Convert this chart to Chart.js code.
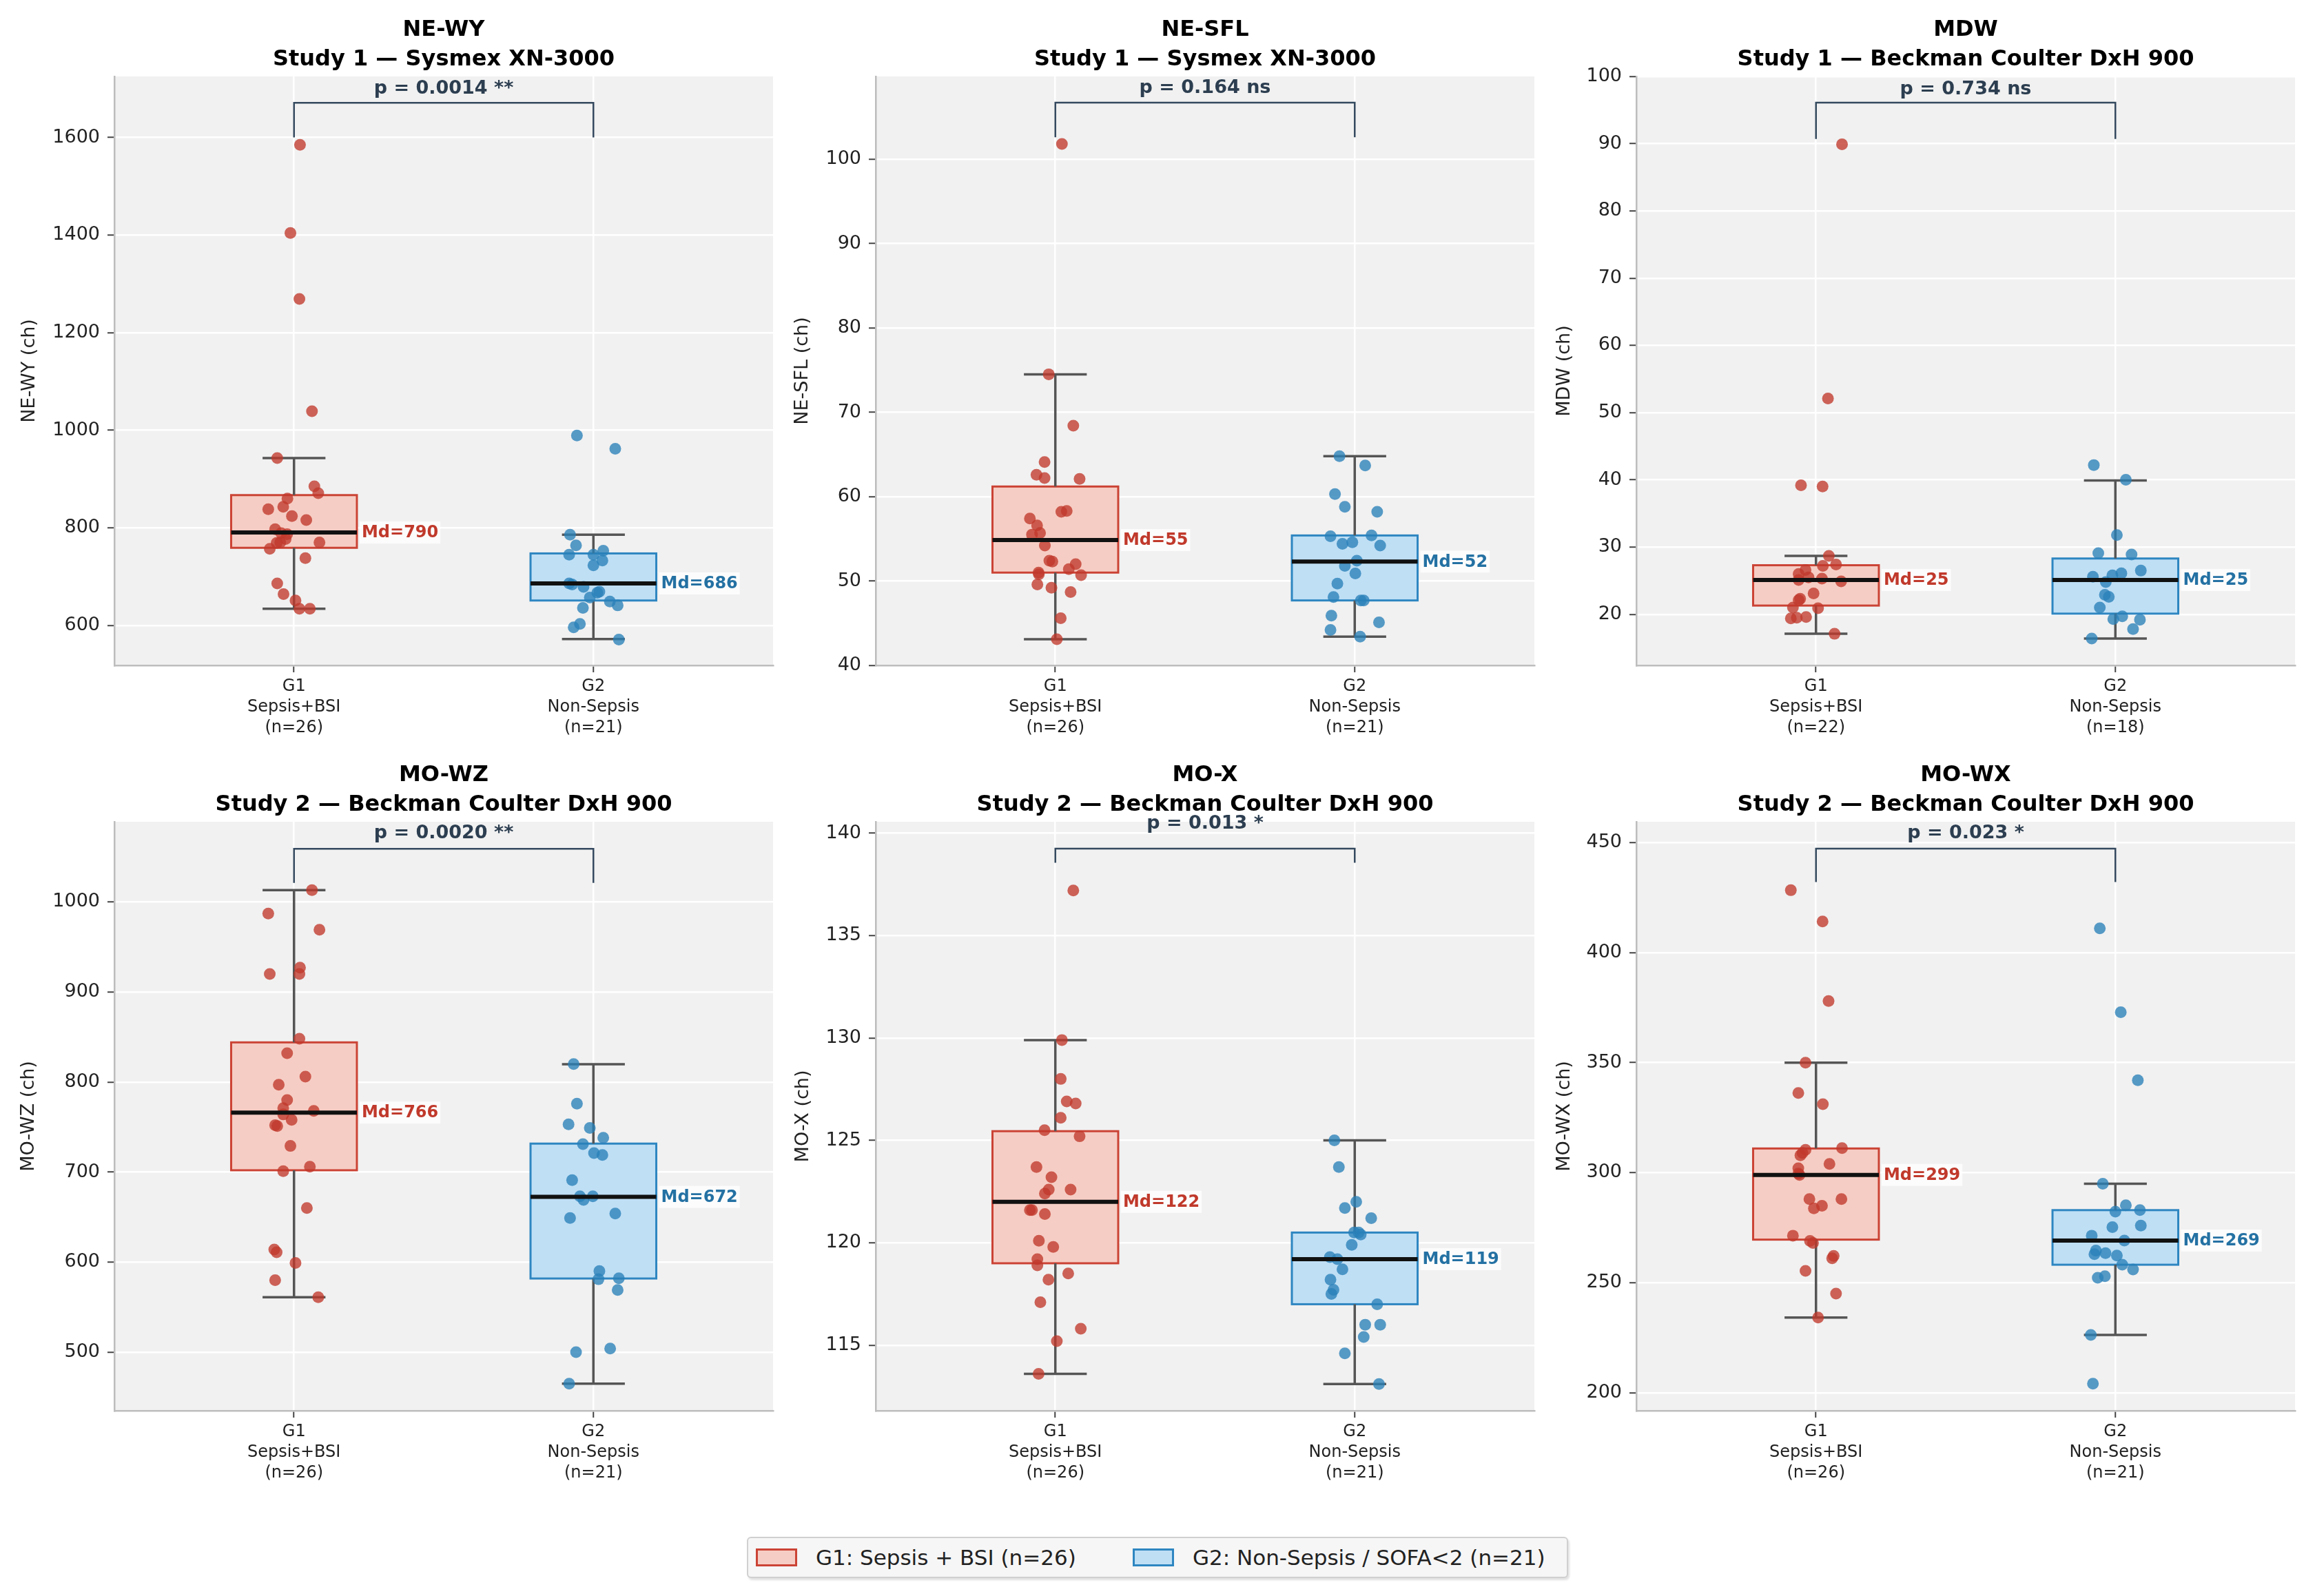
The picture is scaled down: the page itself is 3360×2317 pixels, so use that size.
<!DOCTYPE html>
<html>
<head>
<meta charset="utf-8">
<script src="https://cdn.jsdelivr.net/npm/chart.js@4.4.1/dist/chart.umd.min.js"></script>
<style>
    html, body { margin: 0; padding: 0; background: #ffffff; }
    #page { position: relative; width: 3360px; height: 2317px; overflow: hidden; font-family: 'DejaVu Sans', sans-serif; }
    #page canvas { position: absolute; }
    .legend-box {
        position: absolute; left: 1084px; top: 2231px; width: 1188px; height: 56px;
        border: 2px solid #d0d0d0; border-radius: 6px; background: #f6f6f6;
        box-shadow: 2px 3px 3px rgba(0,0,0,0.12);
    }
    .legend-item { position: absolute; top: 0; height: 56px; display: flex; align-items: center; font-size: 31px; color: #222; white-space: nowrap; }
    .swatch { width: 60px; height: 26px; margin-right: 27px; box-sizing: border-box; }
</style>
</head>
<body>
<div id="page">
    <div class="legend-box">
        <div class="legend-item" style="left: 11px;">
            <span class="swatch" style="background:#f6cdc4;border:3px solid #cb4335;"></span>G1: Sepsis + BSI (n=26)
        </div>
        <div class="legend-item" style="left: 558px;">
            <span class="swatch" style="background:#bfdff5;border:3px solid #2e86c1;"></span>G2: Non-Sepsis / SOFA&lt;2 (n=21)
        </div>
    </div>
</div>

<script>
// ---- data ----
// panel titles and y axis titles
const panelTitles = [
    ['NE-WY', 'Study 1 — Sysmex XN-3000'],
    ['NE-SFL', 'Study 1 — Sysmex XN-3000'],
    ['MDW', 'Study 1 — Beckman Coulter DxH 900'],
    ['MO-WZ', 'Study 2 — Beckman Coulter DxH 900'],
    ['MO-X', 'Study 2 — Beckman Coulter DxH 900'],
    ['MO-WX', 'Study 2 — Beckman Coulter DxH 900']
];
const yTitles = ['NE-WY (ch)', 'NE-SFL (ch)', 'MDW (ch)', 'MO-WZ (ch)', 'MO-X (ch)', 'MO-WX (ch)'];

// group tick labels (n differs for MDW)
const groupCounts = [[26, 21], [26, 21], [22, 18], [26, 21], [26, 21], [26, 21]];
const groupNames = [['G1', 'Sepsis+BSI'], ['G2', 'Non-Sepsis']];

// y tick labels and visible ranges
const yTicks = [
    [600, 800, 1000, 1200, 1400, 1600],
    [40, 50, 60, 70, 80, 90, 100],
    [20, 30, 40, 50, 60, 70, 80, 90, 100],
    [500, 600, 700, 800, 900, 1000],
    [115, 120, 125, 130, 135, 140],
    [200, 250, 300, 350, 400, 450]
];
const yMin = [518, 40, 12.4, 435, 111.8, 191.9];
const yMax = [1725, 109.8, 100, 1089, 140.56, 459.4];

// p-values
const pLabels = ['p = 0.0014 **', 'p = 0.164 ns', 'p = 0.734 ns', 'p = 0.0020 **', 'p = 0.013 *', 'p = 0.023 *'];
const bracketLow = [1600, 102.6, 90.7, 1021, 138.56, 432];
const bracketHigh = [1671, 106.7, 96.1, 1059, 139.25, 447.2];
const pTextAt = [1700, 108.4, 98.1, 1076, 140.45, 454];

// box summaries: [whisker low, Q1, median, Q3, whisker high]
const boxG1 = [
    [634, 759, 790.3, 867, 943],
    [43.1, 51.0, 54.85, 61.2, 74.5],
    [17.1, 21.3, 25.1, 27.3, 28.7],
    [561, 702, 766, 844, 1013],
    [113.6, 119.0, 122.0, 125.45, 129.9],
    [234.2, 269.6, 299.0, 311.0, 350.0]
];
const boxG2 = [
    [572, 651, 686, 747.5, 786],
    [43.4, 47.7, 52.3, 55.4, 64.8],
    [16.4, 20.1, 25.1, 28.3, 39.9],
    [465, 581.8, 672.4, 731.6, 819.8],
    [113.1, 117.0, 119.2, 120.5, 125.0],
    [226.3, 258.2, 269.2, 283.0, 295.0]
];

// individual points: [jitter offset from group centre, value]
const neWyG1 = [[0.02,1585],[-0.012,1404],[0.018,1269],[0.06,1039],[-0.056,943],[0.068,885],[0.081,871],[-0.022,860],[-0.086,838],[-0.036,843],[-0.007,824],[0.041,816],[-0.063,797],[-0.043,789],[-0.023,787],[-0.028,777],[-0.046,770],[0.085,770],[-0.058,769],[-0.081,757],[0.038,738],[-0.056,686],[-0.035,664],[0.005,651],[0.018,634],[0.053,634]];
const neWyG2 = [[-0.055,989],[0.073,962],[-0.078,786],[-0.058,764],[0.033,753],[-0.081,745],[0,745],[0.03,733],[0,723],[-0.081,686],[-0.071,684],[-0.033,679],[0.02,669],[0.013,667],[-0.012,657],[0.055,649],[0.081,641],[-0.035,636],[-0.045,603],[-0.066,596],[0.085,571]];

const neSflG1 = [[0.022,101.8],[-0.022,74.5],[0.06,68.4],[-0.036,64.1],[-0.063,62.6],[-0.036,62.2],[0.081,62.1],[0.02,58.2],[0.038,58.3],[-0.085,57.4],[-0.061,56.6],[-0.051,55.7],[-0.078,55.5],[-0.035,54.2],[-0.02,52.4],[-0.01,52.3],[0.068,52.0],[0.045,51.4],[-0.056,51.0],[-0.055,50.8],[0.086,50.7],[-0.06,49.6],[-0.013,49.2],[0.051,48.7],[0.018,45.6],[0.005,43.1]];
const neSflG2 = [[-0.051,64.8],[0.035,63.7],[-0.066,60.3],[-0.033,58.8],[0.075,58.2],[-0.081,55.3],[0.056,55.4],[-0.041,54.4],[-0.008,54.6],[0.085,54.2],[0.007,52.4],[-0.033,51.8],[0.002,50.9],[-0.058,49.7],[-0.071,48.1],[0.02,47.7],[0.03,47.7],[-0.078,45.9],[0.081,45.1],[-0.081,44.2],[0.018,43.4]];

const mdwG1 = [[0.087,89.9],[0.04,52.1],[-0.05,39.2],[0.022,39.0],[0.043,28.7],[0.023,27.2],[0.067,27.4],[-0.035,26.6],[-0.058,26.0],[-0.025,25.5],[0.02,25.3],[-0.058,25.1],[0.084,24.9],[-0.008,23.1],[-0.053,22.3],[-0.058,22.1],[-0.077,21.0],[0.007,20.9],[-0.084,19.4],[-0.064,19.5],[-0.033,19.6],[0.062,17.1]];
const mdwG2 = [[-0.072,42.2],[0.035,40.0],[0.005,31.8],[-0.057,29.1],[0.054,28.9],[0.085,26.5],[0.02,26.1],[-0.01,25.8],[-0.075,25.6],[-0.032,24.8],[-0.035,22.9],[-0.022,22.6],[-0.052,21.0],[0.023,19.7],[-0.007,19.3],[0.082,19.2],[0.059,17.8],[-0.079,16.4]];

const moWzG1 = [[0.06,1013],[-0.086,987],[0.085,969],[-0.081,920],[0.02,927],[0.018,920],[0.018,848],[-0.023,832],[0.038,806],[-0.051,797],[-0.023,780],[-0.036,771],[-0.036,764],[0.066,768],[-0.008,758],[-0.063,752],[-0.056,751],[-0.012,729],[0.053,706],[-0.036,701],[0.043,660],[-0.066,614],[-0.058,611],[0.005,599],[-0.063,580],[0.081,561]];
const moWzG2 = [[-0.066,820],[-0.055,776],[-0.083,753],[-0.012,749],[0.033,738],[-0.035,731],[0.002,721],[0.03,719],[-0.071,691],[-0.045,673],[-0.033,669],[-0.002,673],[0.073,654],[-0.078,649],[0.02,590],[0.017,581],[0.085,582],[0.081,569],[-0.058,500],[0.056,504],[-0.081,465]];

const moXG1 = [[0.06,137.2],[0.022,129.9],[0.018,128.0],[0.038,126.9],[0.068,126.8],[0.018,126.1],[-0.036,125.5],[0.081,125.2],[-0.063,123.7],[-0.013,123.2],[-0.022,122.6],[0.051,122.6],[-0.035,122.4],[-0.085,121.6],[-0.078,121.6],[-0.035,121.4],[-0.055,120.1],[-0.007,119.8],[-0.06,119.2],[-0.06,118.9],[-0.023,118.2],[0.043,118.5],[-0.05,117.1],[0.085,115.8],[0.005,115.2],[-0.056,113.6]];
const moXG2 = [[-0.068,125.0],[-0.053,123.7],[0.005,122.0],[-0.033,121.7],[0.055,121.2],[-0.002,120.5],[0.02,120.4],[0.013,120.5],[-0.01,119.9],[-0.083,119.3],[-0.058,119.2],[-0.041,118.7],[-0.081,118.2],[-0.071,117.7],[-0.078,117.5],[0.075,117.0],[0.035,116.0],[0.085,116.0],[0.03,115.4],[-0.033,114.6],[0.081,113.1]];

const moWxG1 = [[-0.084,428.3],[0.022,414.1],[0.042,378.0],[-0.035,350.0],[-0.059,336.2],[0.023,331.1],[-0.035,310.4],[0.087,311.2],[-0.052,307.9],[-0.045,309.0],[0.045,304.0],[-0.059,302.0],[-0.059,299.6],[-0.055,299.0],[-0.022,288.0],[0.085,288.0],[0.02,285.0],[-0.007,283.8],[-0.077,271.4],[-0.02,269.0],[-0.01,268.1],[0.059,262.2],[0.054,261.1],[-0.035,255.4],[0.067,245.1],[0.007,234.2]];
const moWxG2 = [[-0.052,411.0],[0.018,372.9],[0.075,342.0],[-0.042,295.0],[0.035,285.2],[0,282.3],[0.082,283.0],[-0.01,275.3],[0.085,276.0],[-0.079,271.4],[0.03,269.2],[-0.065,264.6],[-0.07,263.0],[-0.033,263.5],[0.005,262.4],[0.023,258.2],[0.059,256.0],[-0.035,253.0],[-0.059,252.3],[-0.082,226.3],[-0.075,204.2]];

const pointsG1 = [neWyG1, neSflG1, mdwG1, moWzG1, moXG1, moWxG1];
const pointsG2 = [neWyG2, neSflG2, mdwG2, moWzG2, moXG2, moWxG2];

// ---- layout / style ----
const COL_LEFT = [0, 1105, 2209];
const ROW_TOP = [0, 1082];
const CANVAS_W = 1150;
const CANVAS_H = 1082;
const Y_AXIS_W = 166;
const X_AXIS_H = 116;
const yTitlePad = [27, 44, 46, 26, 45, 46];

const BOX_HALF = 0.21;
const CAP_HALF = 0.105;
const FONT = "'DejaVu Sans', sans-serif";

const groupStyle = [
    { point: 'rgba(192, 57, 43, 0.78)', fill: '#f6cdc4', edge: '#cb4335', text: '#c0392b' },
    { point: 'rgba(41, 128, 185, 0.78)', fill: '#bfdff5', edge: '#2e86c1', text: '#2471a3' }
];

Chart.defaults.font.family = FONT;
Chart.defaults.color = '#222';

// grey panel, boxes, whiskers, medians and the significance bracket
const boxPlotPlugin = {
    id: 'boxPlot',
    beforeDraw(chart) {
        const a = chart.chartArea;
        const ctx = chart.ctx;
        ctx.save();
        ctx.fillStyle = '#f1f1f1';
        ctx.fillRect(a.left, a.top, a.right - a.left, a.bottom - a.top);
        ctx.restore();
    },
    beforeDatasetsDraw(chart, args, opts) {
        const idx = opts.panel;
        const xs = chart.scales.x, ys = chart.scales.y;
        const ctx = chart.ctx;
        ctx.save();
        [boxG1[idx], boxG2[idx]].forEach((st, g) => {
            const left = xs.getPixelForValue(g - BOX_HALF);
            const right = xs.getPixelForValue(g + BOX_HALF);
            const top = ys.getPixelForValue(st[3]);
            const bottom = ys.getPixelForValue(st[1]);
            const cx = xs.getPixelForValue(g);

            ctx.fillStyle = groupStyle[g].fill;
            ctx.fillRect(left, top, right - left, bottom - top);
            ctx.strokeStyle = groupStyle[g].edge;
            ctx.lineWidth = 3;
            ctx.strokeRect(left, top, right - left, bottom - top);

            // whiskers + caps
            ctx.strokeStyle = '#555555';
            ctx.lineWidth = 3.5;
            ctx.beginPath();
            ctx.moveTo(cx, top);
            ctx.lineTo(cx, ys.getPixelForValue(st[4]));
            ctx.moveTo(cx, bottom);
            ctx.lineTo(cx, ys.getPixelForValue(st[0]));
            [st[0], st[4]].forEach(v => {
                const y = ys.getPixelForValue(v);
                ctx.moveTo(xs.getPixelForValue(g - CAP_HALF), y);
                ctx.lineTo(xs.getPixelForValue(g + CAP_HALF), y);
            });
            ctx.stroke();
        });
        ctx.restore();
    },
    afterDatasetsDraw(chart, args, opts) {
        const idx = opts.panel;
        const xs = chart.scales.x, ys = chart.scales.y;
        const ctx = chart.ctx;
        ctx.save();
        [boxG1[idx], boxG2[idx]].forEach((st, g) => {
            const left = xs.getPixelForValue(g - BOX_HALF);
            const right = xs.getPixelForValue(g + BOX_HALF);
            const my = ys.getPixelForValue(st[2]);

            ctx.strokeStyle = '#111111';
            ctx.lineWidth = 6;
            ctx.beginPath();
            ctx.moveTo(left, my);
            ctx.lineTo(right, my);
            ctx.stroke();

            // median label with a light box behind it
            const label = 'Md=' + Math.round(st[2]);
            ctx.font = 'bold 24px ' + FONT;
            const w = ctx.measureText(label).width;
            ctx.fillStyle = 'rgba(255, 255, 255, 0.75)';
            ctx.fillRect(right + 4, my - 16, w + 6, 32);
            ctx.fillStyle = groupStyle[g].text;
            ctx.textAlign = 'left';
            ctx.textBaseline = 'middle';
            ctx.fillText(label, right + 7, my + 1);
        });

        // significance bracket
        const x0 = xs.getPixelForValue(0);
        const x1 = xs.getPixelForValue(1);
        const yLow = ys.getPixelForValue(bracketLow[idx]);
        const yHigh = ys.getPixelForValue(bracketHigh[idx]);
        ctx.strokeStyle = '#34495e';
        ctx.lineWidth = 2.5;
        ctx.beginPath();
        ctx.moveTo(x0, yLow);
        ctx.lineTo(x0, yHigh);
        ctx.lineTo(x1, yHigh);
        ctx.lineTo(x1, yLow);
        ctx.stroke();

        ctx.font = 'bold 27px ' + FONT;
        ctx.fillStyle = '#2c3e50';
        ctx.textAlign = 'center';
        ctx.textBaseline = 'middle';
        ctx.fillText(pLabels[idx], (x0 + x1) / 2, ys.getPixelForValue(pTextAt[idx]));
        ctx.restore();
    }
};

function buildPanel(idx) {
    const canvas = document.createElement('canvas');
    canvas.width = CANVAS_W;
    canvas.height = CANVAS_H;
    canvas.style.left = COL_LEFT[idx % 3] + 'px';
    canvas.style.top = ROW_TOP[Math.floor(idx / 3)] + 'px';
    document.getElementById('page').appendChild(canvas);

    const g1 = pointsG1[idx].map(p => ({ x: 0 + p[0], y: p[1] }));
    const g2 = pointsG2[idx].map(p => ({ x: 1 + p[0], y: p[1] }));
    const xLabels = groupNames.map((n, g) => [n[0], n[1], '(n=' + groupCounts[idx][g] + ')']);

    return new Chart(canvas.getContext('2d'), {
        type: 'scatter',
        data: {
            datasets: [
                { label: 'G1', data: g1, backgroundColor: groupStyle[0].point, borderWidth: 0, pointRadius: 8.5 },
                { label: 'G2', data: g2, backgroundColor: groupStyle[1].point, borderWidth: 0, pointRadius: 8.5 }
            ]
        },
        options: {
            responsive: false,
            animation: false,
            devicePixelRatio: 1,
            events: [],
            layout: { padding: { left: 0, right: CANVAS_W - Y_AXIS_W - 956, top: 0, bottom: 0 } },
            scales: {
                x: {
                    type: 'linear',
                    min: -0.6,
                    max: 1.6,
                    afterBuildTicks: s => { s.ticks = [{ value: 0 }, { value: 1 }]; },
                    afterFit: s => { s.height = X_AXIS_H; },
                    ticks: {
                        callback: (v, i) => xLabels[i],
                        font: { size: 24, lineHeight: 1.25 },
                        color: '#222',
                        padding: 6,
                        autoSkip: false,
                        maxRotation: 0
                    },
                    grid: { color: '#ffffff', lineWidth: 2.5, tickLength: 10, tickColor: '#444', tickWidth: 2 },
                    border: { display: true, color: '#bdbdbd', width: 2.5 }
                },
                y: {
                    type: 'linear',
                    min: yMin[idx],
                    max: yMax[idx],
                    afterBuildTicks: s => { s.ticks = yTicks[idx].map(v => ({ value: v })); },
                    afterFit: s => { s.width = Y_AXIS_W; },
                    ticks: {
                        callback: v => String(v),
                        font: { size: 27 },
                        color: '#222',
                        padding: 11
                    },
                    grid: { color: '#ffffff', lineWidth: 2.5, tickLength: 10, tickColor: '#444', tickWidth: 2 },
                    border: { display: true, color: '#bdbdbd', width: 2.5 },
                    title: {
                        display: true,
                        text: yTitles[idx],
                        font: { size: 27 },
                        color: '#222',
                        padding: { top: yTitlePad[idx], bottom: 0 }
                    }
                }
            },
            plugins: {
                legend: { display: false },
                tooltip: { enabled: false },
                title: {
                    display: true,
                    fullSize: false,
                    text: panelTitles[idx],
                    color: '#000',
                    font: { size: 32, weight: 'bold', lineHeight: 1.34 },
                    padding: { top: 22, bottom: 3.2 }
                },
                boxPlot: { panel: idx }
            }
        },
        plugins: [boxPlotPlugin]
    });
}

document.addEventListener('DOMContentLoaded', function() {
    for (let i = 0; i < 6; i++) {
        buildPanel(i);
    }
});
</script>
</body>
</html>
